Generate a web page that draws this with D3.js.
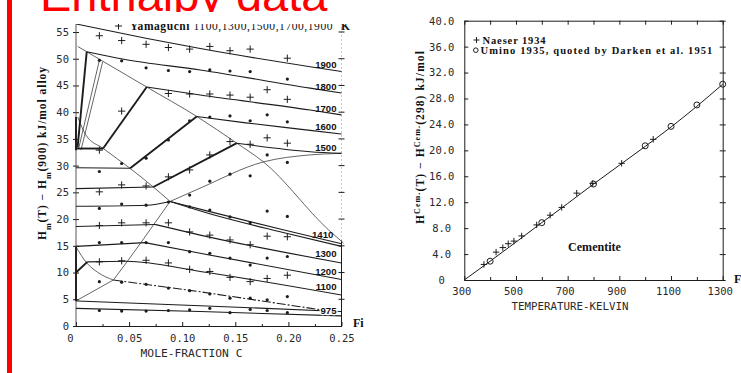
<!DOCTYPE html>
<html>
<head>
<meta charset="utf-8">
<script src="https://cdn.jsdelivr.net/npm/d3@7"></script>
<style>
  html, body { margin: 0; padding: 0; background: #fff; }
  svg { display: block; }
</style>
</head>
<body>
<svg id="slide" width="741" height="373"></svg>
<script>
// ---------------- slide text ----------------
const titleText = "Enthalpy data";

// ---------------- left panel: H_m(T) - H_m(900) vs. mole fraction C ----------------
const xTicksLeft = [0, 0.05, 0.10, 0.15, 0.20, 0.25];
const xTickLabelsLeft = ["0", "0.05", "0.10", "0.15", "0.20", "0.25"];
const xMinorLeft = [0.025, 0.075, 0.125, 0.175, 0.225];
const yTicksLeft = [0, 5, 10, 15, 20, 25, 30, 35, 40, 45, 50, 55];
const yTickLabelsLeft = ["0", "5", "10", "15", "20", "25", "30", "35", "40", "45", "50", "55"];

const isoNames = ["1900", "1800", "1700", "1600", "1500", "1410", "1300", "1200", "1100", "975"];

// compositions at which the calorimetric points were measured
const cNodes = [0.022, 0.043, 0.066, 0.087, 0.107, 0.126, 0.145, 0.164, 0.180, 0.199];

// "+" points (Yamaguchi 1100,1300,1500,1700,1900 K), kJ/mol
const plus1900 = [54.3, 53.4, 52.7, 52.1, 51.8, 52.3, 51.5, 51.8, null, 50.1];
const plus1700 = [32.9, 40.2, null, 43.5, 43.4, 43.4, 43.2, 42.8, 44.2, 42.4];
const plus1500 = [25.1, 26.4, 26.2, 27.9, 29.2, 32.0, 34.5, 34.0, 35.2, 34.2];
const plus1300 = [18.8, 19.3, 19.3, 19.3, 17.6, 17.0, 16.1, 15.2, 16.8, 16.7];
const plus1100 = [12.0, 12.2, 12.3, 11.8, 10.6, 10.2, 9.1, 8.3, 8.9, 9.5];

// "•" points, kJ/mol
const dots1800 = [49.7, 49.6, 48.3, 47.8, 47.6, 47.9, 47.7, 47.6, null, 46.2];
const dots1600 = [28.9, 30.4, 31.4, 34.8, 38.4, 39.1, 39.3, 38.4, 39.5, 38.2];
const dots1500 = [null, null, null, null, 24.5, 27.1, 28.4, 28.1, 32.0, 30.6];
const dots1410 = [22.0, 22.8, 22.6, 23.2, 22.3, 21.7, 20.4, 19.3, 21.5, 20.5];
const dots1200 = [15.6, 15.6, 15.6, 15.6, 13.9, 13.6, 12.7, 11.4, 12.7, 13.0];
const dots1000 = [8.3, 8.2, 7.8, 7.1, 6.6, 6.0, 5.2, 5.2, 4.9, 5.5];
const dots975  = [2.9, 2.8, 2.8, 2.9, 3.0, 3.3, 2.5, 3.1, 2.9, 2.5];

// calculated isotherms, [mole fraction C, kJ/mol]
const iso1900Liq = [[0, 56.5], [0.067, 53.8], [0.117, 51.9], [0.2205, 48.5], [0.25, 47.6]];
const iso1800Two = [[0.0015, 33.4], [0.0101, 51.3]];
const iso1800Liq = [[0.0101, 51.3], [0.045, 49.9], [0.117, 47.9], [0.2205, 44.5], [0.25, 43.6]];
const iso1700Sol = [[0, 33.2], [0.0255, 33.2]];
const iso1700Two = [[0.0255, 33.2], [0.0666, 44.7]];
const iso1700Liq = [[0.0666, 44.7], [0.117, 43.2], [0.2205, 40.4], [0.25, 39.5]];
const iso1600Sol = [[0, 29.6], [0.051, 29.5]];
const iso1600Two = [[0.051, 29.5], [0.1137, 39.2]];
const iso1600Liq = [[0.1137, 39.2], [0.16, 38.0], [0.2205, 36.6], [0.25, 35.9]];
const iso1500Sol = [[0, 25.7], [0.0728, 26.0]];
const iso1500Two = [[0.0728, 26.0], [0.1514, 34.2]];
const iso1500Liq = [[0.1514, 34.2], [0.2205, 32.6], [0.25, 32.3]];
const iso1410Sol = [[0, 22.4], [0.0666, 22.6], [0.0886, 23.3]];
const iso1410A   = [[0.0886, 23.3], [0.126, 21.4], [0.195, 18.0], [0.25, 15.4]];
const iso1410B   = [[0.0886, 23.3], [0.126, 21.0], [0.195, 17.5], [0.25, 14.9]];
const iso1300Sol = [[0, 18.6], [0.0744, 19.0]];
const iso1300Two = [[0.0744, 19.0], [0.117, 17.0], [0.25, 11.8]];
const iso1200Sol = [[0, 14.9], [0.065, 15.6]];
const iso1200Two = [[0.065, 15.6], [0.117, 13.6], [0.25, 8.7]];
const iso1100Gam = [[0, 10.0], [0.0107, 12.0]];
const iso1100Two = [[0.0107, 12.0], [0.0478, 12.1], [0.117, 10.2], [0.25, 5.8]];
const iso1000    = [[0.0352, 8.6], [0.117, 6.4], [0.235, 2.9]];
const iso975A    = [[0, 4.7], [0.117, 3.8], [0.25, 2.7]];
const iso975B    = [[0, 3.3], [0.117, 2.7], [0.25, 1.9]];

// phase boundaries crossing the isotherms
const liquidus   = [[0.0016, 52.3], [0.0101, 51.3], [0.0666, 44.7], [0.1137, 39.2], [0.1514, 34.2], [0.1765, 30.7], [0.2377, 18.0], [0.252, 15.5]];
const solidus    = [[0.0016, 39.1], [0.0094, 35.7], [0.0257, 33.2], [0.0509, 29.5], [0.0728, 26.0], [0.0886, 23.3]];
const gammaLow   = [[0, 4.7], [0.0352, 8.6]];
const gammaMid   = [[0.0352, 8.6], [0.048, 12.0], [0.0697, 18.0], [0.0886, 23.3]];
const gammaHigh  = [[0.0886, 23.3], [0.117, 25.8], [0.1765, 30.7], [0.22, 32.0], [0.25, 32.3]];
const alphaGamma = [[0, 14.8], [0.0101, 11.8], [0.02, 10.1], [0.0352, 8.6]];
const deltaA     = [[0.022, 49.7], [0.0025, 33.2]];
const deltaB     = [[0.0251, 49.4], [0.0047, 32.9]];
const pureFeLow  = [[0, 4.7], [0, 14.8]];
const pureFeHigh = [[0, 32.9], [0, 39.1]];

// ---------------- right panel: cementite ----------------
const xTicksRight = [300, 500, 700, 900, 1100, 1300];
const xTickLabelsRight = ["300", "500", "700", "900", "1100", "1300"];
const xMinorRight = [400, 600, 800, 1000, 1200];
const yTicksRight = [0, 4, 8, 12, 16, 20, 24, 28, 32, 36, 40];
const yTickLabelsRight = ["0", "4.0", "8.0", "12.0", "16.0", "20.0", "24.0", "28.0", "32.0", "36.0", "40.0"];

const naeserT = [376, 423, 449, 470, 492, 522, 580, 632, 677, 735, 797, 909, 1031];
const naeserH = [2.4, 4.3, 5.0, 5.6, 6.0, 6.8, 8.5, 10.0, 11.2, 13.4, 14.9, 18.0, 21.7];
const uminoT  = [400, 600, 800, 1000, 1100, 1200, 1300];
const uminoH  = [2.9, 8.85, 14.8, 20.7, 23.7, 27.0, 30.2];
const assessT = [300, 400, 500, 600, 700, 800, 900, 1000, 1100, 1200, 1300];
const assessH = [0, 2.9, 5.85, 8.85, 11.8, 14.8, 17.7, 20.6, 23.6, 26.8, 30.2];

// ---------------- drawing ----------------
const W = 741, H = 373;
const ink = "#1c1c1c";
const mono = "'DejaVu Sans Mono', 'Liberation Mono', monospace";
const serif = "'Liberation Serif', 'DejaVu Serif', serif";
const sans = "'Liberation Sans', Arial, sans-serif";

const svg = d3.select("#slide");
const defs = svg.append("defs");
defs.append("clipPath").attr("id", "clipL")
  .append("rect").attr("x", 13).attr("y", 24).attr("width", 357).attr("height", H - 24);

svg.append("rect").attr("width", W).attr("height", H).attr("fill", "#fff");

// title (its lower edge is covered by the figures pasted below it)
svg.append("text")
  .attr("x", 40).attr("y", 10.5)
  .attr("font-family", sans).attr("font-size", 47)
  .attr("fill", "#ff0000")
  .text(titleText);
svg.append("rect").attr("x", 13).attr("y", 12).attr("width", W - 13).attr("height", H - 12).attr("fill", "#fff");
svg.append("rect").attr("x", 7).attr("y", 0).attr("width", 5).attr("height", H).attr("fill", "#ff0000");

// scale a text element's font so that it spans a given advance width
function fitWidth(sel, target) {
  const len = sel.node().getComputedTextLength();
  const fs = parseFloat(sel.attr("font-size"));
  if (len > 0) sel.attr("font-size", fs * target / len);
  return sel;
}
// keep the font size, spread the letters to span a given advance width
function fitSpacing(sel, target) {
  const node = sel.node();
  const len = node.getComputedTextLength();
  const n = node.textContent.length;
  if (len > 0 && n > 1) sel.attr("letter-spacing", (target - len) / n);
  return sel;
}

function styleAxis(g, fontSize) {
  g.selectAll(".domain").attr("stroke", ink).attr("stroke-width", 1);
  g.selectAll(".tick line").attr("stroke", ink).attr("stroke-width", 1);
  g.selectAll(".tick text").attr("font-family", mono).attr("font-size", fontSize).attr("fill", "#2a2a2a");
}

function plusPath(x, y, s) {
  return `M${x - s},${y}H${x + s}M${x},${y - s}V${y + s}`;
}

// ===== left panel =====
const xL = d3.scaleLinear().domain([0, 0.25]).range([76, 341.5]);
const yL = d3.scaleLinear().domain([0, 55]).range([326, 32]);
const gL = svg.append("g").attr("clip-path", "url(#clipL)");

const lineL = d3.line().x(d => xL(d[0])).y(d => yL(d[1]));
const curveL = d3.line().x(d => xL(d[0])).y(d => yL(d[1])).curve(d3.curveMonotoneX);

// axes
const axBL = d3.axisBottom(xL).tickValues(xTicksLeft)
  .tickFormat((d, i) => xTickLabelsLeft[i]).tickSizeInner(-4).tickSizeOuter(0).tickPadding(8.5);
const gAxBL = gL.append("g").attr("transform", `translate(0,${yL(0)})`).call(axBL);
styleAxis(gAxBL, 10.5);
gAxBL.selectAll(".tick text").filter((d, i) => i === 0).attr("dx", -6);
const gMinBL = gL.append("g").attr("transform", `translate(0,${yL(0)})`)
  .call(d3.axisBottom(xL).tickValues(xMinorLeft).tickFormat("").tickSizeInner(-2).tickSizeOuter(0));
gMinBL.select(".domain").remove();
styleAxis(gMinBL, 10);

const axLL = d3.axisLeft(yL).tickValues(yTicksLeft)
  .tickFormat((d, i) => yTickLabelsLeft[i]).tickSizeInner(3).tickSizeOuter(0).tickPadding(4);
const gAxLL = gL.append("g").attr("transform", `translate(${xL(0)},0)`).call(axLL);
gAxLL.select(".domain").remove();
styleAxis(gAxLL, 10.5);
gAxLL.selectAll(".tick").append("line").attr("x1", 0).attr("x2", 3).attr("stroke", ink);
gL.append("line").attr("x1", xL(0)).attr("x2", xL(0)).attr("y1", yL(0)).attr("y2", yL(56.8))
  .attr("stroke", "#444").attr("stroke-width", 0.9);

// right frame edge: dotted above the eutectic, solid below
gL.append("line").attr("x1", xL(0.25)).attr("x2", xL(0.25)).attr("y1", yL(0)).attr("y2", yL(16))
  .attr("stroke", ink).attr("stroke-width", 1);
gL.append("line").attr("x1", xL(0.25)).attr("x2", xL(0.25)).attr("y1", yL(16)).attr("y2", yL(56.5))
  .attr("stroke", "#777").attr("stroke-width", 0.8).attr("stroke-dasharray", "1,3");
gL.append("g").selectAll("line").data(yTicksLeft.slice(1)).join("line")
  .attr("x1", xL(0.25) - 3).attr("x2", xL(0.25) + 3)
  .attr("y1", d => yL(d)).attr("y2", d => yL(d))
  .attr("stroke", ink).attr("stroke-width", 1);

// phase boundaries (thin)
const thin = [liquidus, solidus, gammaMid, gammaHigh, alphaGamma, deltaA, deltaB];
gL.append("g").selectAll("path").data(thin).join("path")
  .attr("d", d => curveL(d)).attr("fill", "none")
  .attr("stroke", "#333").attr("stroke-width", 0.75);
gL.append("path").attr("d", lineL(gammaLow)).attr("fill", "none")
  .attr("stroke", "#333").attr("stroke-width", 0.75);

// isotherms (medium)
const medium = [iso1900Liq, iso1800Liq, iso1700Liq, iso1600Liq, iso1500Liq,
  iso1600Sol, iso1500Sol, iso1410Sol, iso1410A, iso1410B,
  iso1300Sol, iso1300Two, iso1200Sol, iso1200Two, iso1100Two, iso975A, iso975B];
gL.append("g").selectAll("path").data(medium).join("path")
  .attr("d", d => curveL(d)).attr("fill", "none")
  .attr("stroke", ink).attr("stroke-width", 1.1);

gL.append("path").attr("d", lineL(iso1000)).attr("fill", "none")
  .attr("stroke", ink).attr("stroke-width", 1.1).attr("stroke-dasharray", "9,2,2,2");

// isotherm segments through the two-phase fields (thick)
const thick = [iso1800Two, iso1700Sol, iso1700Two, iso1600Two, iso1500Two, iso1100Gam, pureFeLow, pureFeHigh];
gL.append("g").selectAll("path").data(thick).join("path")
  .attr("d", d => lineL(d)).attr("fill", "none")
  .attr("stroke", ink).attr("stroke-width", 1.9);

// measured points
const plusSeries = [plus1900, plus1700, plus1500, plus1300, plus1100];
const dotSeries = [dots1800, dots1600, dots1500, dots1410, dots1200, dots1000, dots975];
const plusPts = plusSeries.flatMap(s => s.map((v, i) => [cNodes[i], v]).filter(p => p[1] !== null));
const dotPts = dotSeries.flatMap(s => s.map((v, i) => [cNodes[i], v]).filter(p => p[1] !== null));
gL.append("g").selectAll("path").data(plusPts).join("path")
  .attr("d", d => plusPath(xL(d[0]), yL(d[1]), 3.6))
  .attr("stroke", ink).attr("stroke-width", 1).attr("fill", "none");
gL.append("g").selectAll("circle").data(dotPts).join("circle")
  .attr("cx", d => xL(d[0])).attr("cy", d => yL(d[1])).attr("r", 1.6).attr("fill", ink);

// isotherm labels
const isoLabelLayout = [
  [0.2453, 48.2], [0.2453, 44.2], [0.2453, 40.1], [0.2453, 36.6], [0.2453, 32.8],
  [0.2423, 16.4], [0.2453, 13.0], [0.2453, 9.5], [0.2453, 6.7], [0.2453, 2.2]
];
gL.append("g").selectAll("text").data(isoNames).join("text")
  .attr("x", (d, i) => xL(isoLabelLayout[i][0]))
  .attr("y", (d, i) => yL(isoLabelLayout[i][1]))
  .attr("text-anchor", "end")
  .attr("font-family", sans).attr("font-weight", "bold").attr("font-size", 9.6)
  .attr("fill", "#111")
  .attr("stroke", (d, i) => i === 9 ? "#fff" : "none")
  .attr("stroke-width", 2.5).attr("paint-order", "stroke")
  .text(d => d);

// legend of the left panel (its top edge is cut off)
gL.append("path").attr("d", plusPath(118.5, 26, 3.5)).attr("stroke", ink).attr("fill", "none");
const legL = gL.append("text").attr("x", 130).attr("y", 30)
  .attr("font-family", serif).attr("font-size", 11.5).attr("fill", "#111");
legL.append("tspan").attr("font-weight", "bold").text("Yamaguchi ");
legL.append("tspan").text("1100,1300,1500,1700,1900");
fitSpacing(legL, 203);
gL.append("text").attr("x", 341).attr("y", 30).attr("font-family", serif).attr("font-weight", "bold")
  .attr("font-size", 11.5).attr("fill", "#111").text("K");

// axis titles
const yTitleL = gL.append("text")
  .attr("transform", "translate(46,240) rotate(-90)")
  .attr("font-family", serif).attr("font-weight", "bold").attr("font-size", 11.5).attr("fill", "#111");
yTitleL.append("tspan").text("H");
yTitleL.append("tspan").attr("baseline-shift", "sub").attr("font-size", 8).text("m");
yTitleL.append("tspan").text("(T) \u2212 H");
yTitleL.append("tspan").attr("baseline-shift", "sub").attr("font-size", 8).text("m");
yTitleL.append("tspan").text("(900) kJ/mol alloy");
fitSpacing(yTitleL, 174);

const xTitleL = gL.append("text").attr("x", 191.5).attr("y", 357)
  .attr("text-anchor", "middle").attr("font-family", mono).attr("font-size", 11)
  .attr("fill", "#2a2a2a").text("MOLE-FRACTION C");
fitWidth(xTitleL, 102);

svg.append("text").attr("x", 353).attr("y", 327).attr("font-family", serif).attr("font-weight", "bold")
  .attr("font-size", 12).attr("fill", "#111").text("Fi");

// ===== right panel =====
const xR = d3.scaleLinear().domain([300, 1300]).range([464.3, 722.7]);
const yR = d3.scaleLinear().domain([0, 40]).range([280, 20.7]);
const gR = svg.append("g");

const axBR = d3.axisBottom(xR).tickValues(xTicksRight)
  .tickFormat((d, i) => xTickLabelsRight[i]).tickSizeInner(-4).tickSizeOuter(0).tickPadding(8);
const gAxBR = gR.append("g").attr("transform", `translate(0,${yR(0)})`).call(axBR);
styleAxis(gAxBR, 10.5);
gAxBR.selectAll(".tick text").attr("dx", -3);
const gMinBR = gR.append("g").attr("transform", `translate(0,${yR(0)})`)
  .call(d3.axisBottom(xR).tickValues(xMinorRight).tickFormat("").tickSizeInner(-3).tickSizeOuter(0));
gMinBR.select(".domain").remove();
styleAxis(gMinBR, 10);

const gAxTR = gR.append("g").attr("transform", `translate(0,${yR(40)})`)
  .call(d3.axisTop(xR).tickValues(xTicksRight.concat(xMinorRight)).tickFormat("").tickSizeInner(-4).tickSizeOuter(0));
styleAxis(gAxTR, 10);

const axLR = d3.axisLeft(yR).tickValues(yTicksRight)
  .tickFormat((d, i) => yTickLabelsRight[i]).tickSizeInner(-4).tickSizeOuter(0).tickPadding(10);
const gAxLR = gR.append("g").attr("transform", `translate(${xR(300)},0)`).call(axLR);
styleAxis(gAxLR, 10.5);
gAxLR.selectAll(".tick text").attr("text-anchor", "middle").attr("x", -22.6);

const gAxRR = gR.append("g").attr("transform", `translate(${xR(1300)},0)`)
  .call(d3.axisRight(yR).tickValues(yTicksRight).tickFormat("").tickSizeInner(3).tickSizeOuter(0));
styleAxis(gAxRR, 10);
gAxRR.selectAll(".tick").append("line").attr("x1", 0).attr("x2", -3).attr("stroke", ink);

// assessed enthalpy curve
const fitPts = assessT.map((t, i) => [t, assessH[i]]);
gR.append("path")
  .attr("d", d3.line().x(d => xR(d[0])).y(d => yR(d[1])).curve(d3.curveMonotoneX)(fitPts))
  .attr("fill", "none").attr("stroke", ink).attr("stroke-width", 1);

// measurements
gR.append("g").selectAll("path").data(naeserT.map((t, i) => [t, naeserH[i]])).join("path")
  .attr("d", d => plusPath(xR(d[0]), yR(d[1]), 3.2))
  .attr("stroke", ink).attr("stroke-width", 1).attr("fill", "none");
gR.append("g").selectAll("circle").data(uminoT.map((t, i) => [t, uminoH[i]])).join("circle")
  .attr("cx", d => xR(d[0])).attr("cy", d => yR(d[1])).attr("r", 3)
  .attr("fill", "none").attr("stroke", ink).attr("stroke-width", 1);

// legend
gR.append("path").attr("d", plusPath(476.5, 40, 3)).attr("stroke", ink).attr("fill", "none");
const leg1 = gR.append("text").attr("x", 482.5).attr("y", 43.5)
  .attr("font-family", serif).attr("font-weight", "bold").attr("font-size", 10.5)
  .attr("fill", "#111").text("Naeser 1934");
fitSpacing(leg1, 64);
gR.append("circle").attr("cx", 475.8).attr("cy", 50.2).attr("r", 2.3)
  .attr("fill", "none").attr("stroke", ink).attr("stroke-width", 1);
const leg2 = gR.append("text").attr("x", 480.5).attr("y", 53.8)
  .attr("font-family", serif).attr("font-weight", "bold").attr("font-size", 10.5)
  .attr("fill", "#111").text("Umino 1935, quoted by Darken et al. 1951");
fitSpacing(leg2, 233);

const cem = gR.append("text").attr("x", 594.5).attr("y", 250.5).attr("text-anchor", "middle")
  .attr("font-family", serif).attr("font-weight", "bold").attr("font-size", 11)
  .attr("fill", "#111").text("Cementite");
fitWidth(cem, 53);

const yTitleR = gR.append("text")
  .attr("transform", "translate(424,224) rotate(-90)")
  .attr("font-family", serif).attr("font-weight", "bold").attr("font-size", 11.5).attr("fill", "#111");
yTitleR.append("tspan").text("H");
yTitleR.append("tspan").attr("baseline-shift", "super").attr("font-size", 8).text("Cem.");
yTitleR.append("tspan").text("(T) \u2212 H");
yTitleR.append("tspan").attr("baseline-shift", "super").attr("font-size", 8).text("Cem.");
yTitleR.append("tspan").text("(298) kJ/mol");
fitSpacing(yTitleR, 174);

const xTitleR = gR.append("text").attr("x", 570).attr("y", 309.5)
  .attr("text-anchor", "middle").attr("font-family", mono).attr("font-size", 11)
  .attr("fill", "#2a2a2a").text("TEMPERATURE-KELVIN");
fitWidth(xTitleR, 117);

svg.append("text").attr("x", 734).attr("y", 283).attr("font-family", serif).attr("font-weight", "bold")
  .attr("font-size", 12).attr("fill", "#111").text("F");
</script>
</body>
</html>
